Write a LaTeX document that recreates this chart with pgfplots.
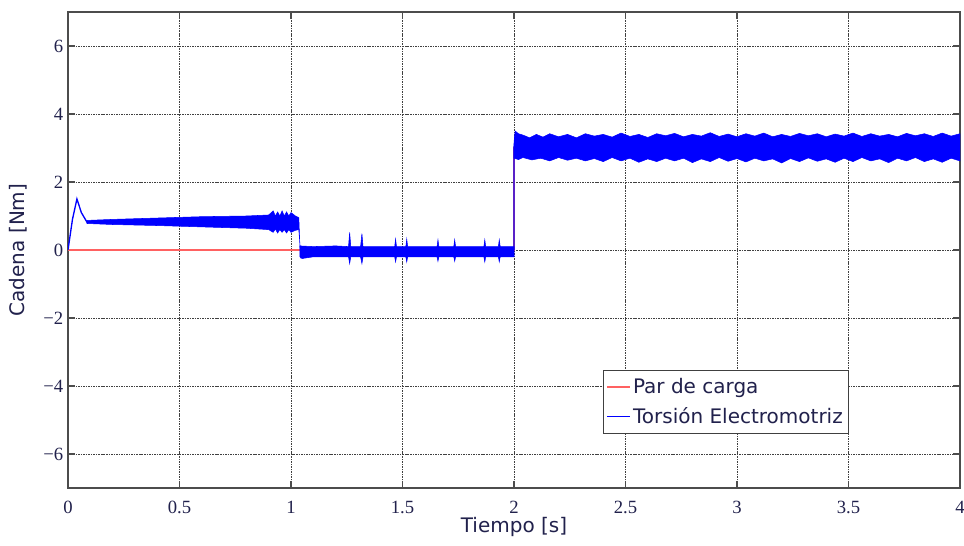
\documentclass[border=0pt]{standalone}
\usepackage{fontspec}
\setmainfont{Liberation Serif}
\newfontfamily\labelfont{DejaVu Sans}
\usepackage{pgfplots}
\pgfplotsset{compat=1.18}
\usetikzlibrary{calc}
\definecolor{txt}{rgb}{0.13,0.13,0.3}
\definecolor{redline}{rgb}{1,0.38,0.38}
\definecolor{sigblue}{rgb}{0,0,1}
\begin{document}
\begin{tikzpicture}
\begin{axis}[name=ax, scale only axis, width=669pt, height=357pt,
  xmin=0, xmax=4, ymin=-7, ymax=7,
  xtick={0,0.5,1,1.5,2,2.5,3,3.5,4},
  xticklabels={0,0.5,1,1.5,2,2.5,3,3.5,4},
  ytick={-6,-4,-2,0,2,4,6},
  yticklabels={−6,−4,−2,0,2,4,6},
  tick label style={font=\fontsize{14}{16}\selectfont, text=txt},
  xticklabel style={yshift=-6pt},
  grid=major,
  major grid style={black!75, dash pattern=on 1.2pt off 0.7pt, line width=0.5pt},
  axis line style={black!70, line width=0.9pt},
  tick style={black!70, line width=0.8pt},
  tick align=inside, major tick length=5pt,
  xlabel={Tiempo [s]}, ylabel={Cadena [Nm]},
  label style={font=\labelfont\fontsize{15}{17}\selectfont, text=txt},
  xlabel style={at={(axis description cs:0.5,-0.082)}, anchor=center},
  ylabel style={at={(axis description cs:-0.056,0.5)}, anchor=center},
  legend style={at={(rel axis cs:0.6,0.248)}, anchor=north west,
    font=\labelfont\fontsize{15}{18}\selectfont,
    draw=black!75, line width=0.8pt, inner xsep=2pt, inner ysep=4pt,
    /tikz/every even column/.append style={column sep=2pt},
    row sep=5pt},
  legend cell align=left,
  legend image code/.code={\draw[#1, line width=0.9pt] (0cm,0cm) -- (0.6cm,0cm);},
]
\addlegendimage{draw=redline}
\addlegendentry{\textcolor{txt}{Par de carga}}
\addlegendimage{draw=sigblue}
\addlegendentry{\textcolor{txt}{Torsión Electromotriz}}

% Par de carga
\addplot[draw=redline, line width=1.3pt, forget plot] coordinates {(0,0) (2,0) (2,3) (4,3)};

% startup transient
\addplot[draw=sigblue, line width=1pt, forget plot] coordinates {(0,0) (0.02,0.9) (0.04,1.5) (0.06,1.1) (0.085,0.82) (0.1,0.84)};

% band 0.085 - 1.035
\addplot[draw=sigblue, fill=sigblue, line width=0.4pt, forget plot] coordinates {
(0.085,0.87) (0.2,0.9) (0.4,0.94) (0.6,0.98) (0.8,1.0) (0.9,1.03)
(0.92,1.15) (0.93,1.0) (0.94,1.12) (0.95,1.0) (0.96,1.15) (0.97,1.0) (0.98,1.12) (0.99,1.0) (1.0,1.1) (1.02,1.0) (1.035,0.95)
(1.04,0.1) (1.045,-0.25)
(1.035,0.6) (1.02,0.58) (1.0,0.52) (0.99,0.6) (0.98,0.5) (0.97,0.6) (0.96,0.52) (0.95,0.6) (0.94,0.5) (0.93,0.62) (0.92,0.52)
(0.9,0.6) (0.8,0.64) (0.6,0.68) (0.4,0.72) (0.2,0.75) (0.085,0.78) (0.085,0.87)};

% band 1.04 - 2.0
\addplot[draw=sigblue, fill=sigblue, line width=0.4pt, forget plot] coordinates {
(1.04,0.12) (1.1,0.1) (1.2,0.12) (1.258,0.1) (1.263,0.52) (1.268,0.1)
(1.312,0.1) (1.318,0.48) (1.323,0.1) (1.465,0.1) (1.469,0.32) (1.473,0.1)
(1.515,0.1) (1.519,0.32) (1.523,0.1) (1.655,0.1) (1.659,0.3) (1.663,0.1)
(1.73,0.1) (1.734,0.3) (1.738,0.1) (1.865,0.1) (1.869,0.3) (1.873,0.1)
(1.93,0.1) (1.934,0.3) (1.938,0.1) (2.0,0.1)
(2.0,-0.2) (1.938,-0.2) (1.934,-0.35) (1.93,-0.2) (1.873,-0.2) (1.869,-0.35) (1.865,-0.2)
(1.738,-0.2) (1.734,-0.33) (1.73,-0.2) (1.663,-0.2) (1.659,-0.33) (1.655,-0.2)
(1.523,-0.2) (1.519,-0.35) (1.515,-0.2) (1.473,-0.2) (1.469,-0.35) (1.465,-0.2)
(1.323,-0.2) (1.318,-0.4) (1.312,-0.2) (1.268,-0.2) (1.263,-0.4) (1.258,-0.2)
(1.2,-0.2) (1.1,-0.2) (1.05,-0.25) (1.04,-0.2) (1.04,0.12)};

% step at t = 2
\addplot[draw=sigblue, line width=1pt, forget plot] coordinates {(2.0,0) (2.0,3.0) (2.005,3.4)};

% band 2.0 - 4.0
\addplot[draw=sigblue, fill=sigblue, line width=0.4pt, forget plot] coordinates {
(2.0,3.0) (2.005,3.5) (2.02,3.42) (2.04,3.38) (2.07,3.3) (2.10,3.4) (2.13,3.32) (2.16,3.42)
(2.2,3.33) (2.24,3.4) (2.28,3.3) (2.32,3.42) (2.36,3.35) (2.4,3.4) (2.44,3.32) (2.48,3.44)
(2.52,3.34) (2.56,3.4) (2.6,3.31) (2.64,3.42) (2.68,3.36) (2.72,3.43) (2.76,3.33) (2.8,3.4)
(2.84,3.35) (2.88,3.45) (2.92,3.34) (2.96,3.41) (3.0,3.33) (3.04,3.42) (3.08,3.35) (3.12,3.44)
(3.16,3.33) (3.2,3.4) (3.24,3.34) (3.28,3.43) (3.32,3.36) (3.36,3.42) (3.4,3.33) (3.44,3.41)
(3.48,3.35) (3.52,3.44) (3.56,3.34) (3.6,3.42) (3.64,3.35) (3.68,3.4) (3.72,3.33) (3.76,3.43)
(3.8,3.36) (3.84,3.42) (3.88,3.34) (3.92,3.44) (3.96,3.35) (4.0,3.42)
(4.0,2.62) (3.96,2.7) (3.92,2.58) (3.88,2.68) (3.84,2.6) (3.8,2.72) (3.76,2.62) (3.72,2.7)
(3.68,2.57) (3.64,2.68) (3.6,2.62) (3.56,2.72) (3.52,2.6) (3.48,2.7) (3.44,2.58) (3.4,2.68)
(3.36,2.61) (3.32,2.71) (3.28,2.6) (3.24,2.69) (3.2,2.56) (3.16,2.68) (3.12,2.62) (3.08,2.7)
(3.04,2.59) (3.0,2.69) (2.96,2.61) (2.92,2.72) (2.88,2.6) (2.84,2.68) (2.8,2.57) (2.76,2.7)
(2.72,2.62) (2.68,2.7) (2.64,2.6) (2.6,2.68) (2.56,2.58) (2.52,2.7) (2.48,2.62) (2.44,2.72)
(2.4,2.6) (2.36,2.69) (2.32,2.62) (2.28,2.7) (2.24,2.64) (2.2,2.72) (2.16,2.62) (2.12,2.7)
(2.08,2.65) (2.04,2.72) (2.02,2.66) (2.0,2.7) (2.0,3.0)};
\end{axis}
\pgfresetboundingbox
\path ($(ax.south west)+(-51pt,-42.75pt)$) rectangle ($(ax.north east)+(3pt,9pt)$);
\end{tikzpicture}
\end{document}
